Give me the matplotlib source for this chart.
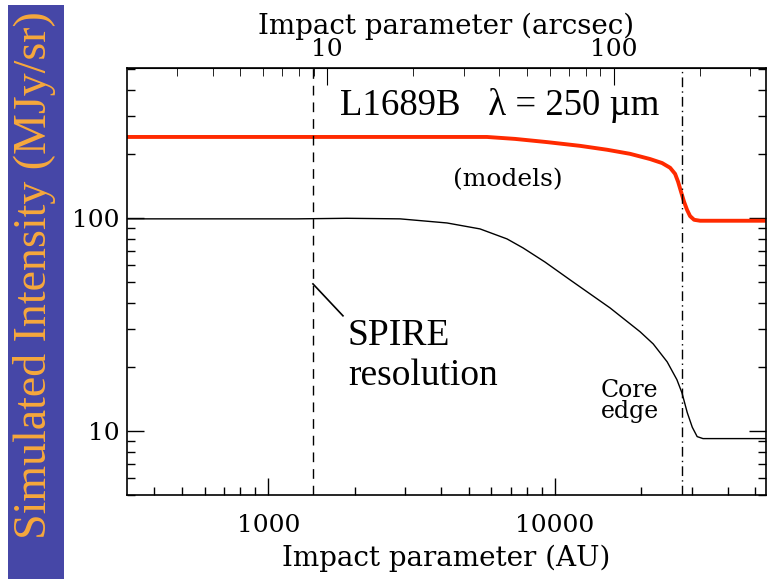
import numpy as np
import matplotlib
matplotlib.use('Agg')
import matplotlib.pyplot as plt
from matplotlib.patches import Rectangle
from matplotlib.ticker import FixedLocator, NullFormatter

# impact parameter (AU) and simulated intensity (MJy/sr)
red_au = [321, 5790, 7255, 9380, 12230, 15190, 18260, 21450, 23620, 25190,
          26220, 26850, 27510, 28180, 28870, 29570, 30540, 32050, 54400]
red_int = [240, 240, 235, 227, 218, 209, 200, 189, 181, 172,
           161, 148, 132.5, 119, 109, 102, 98, 97, 97]

black_au = [321, 1259, 1880, 2880, 4200, 5475, 6800, 7735, 9220, 11280,
            15550, 19800, 22000, 24600, 26600, 27700, 28900, 30100, 31300,
            32800, 54400]
black_int = [99, 99, 99.6, 99, 94.7, 88.8, 79.7, 72.3, 62.1, 51.2, 37.8,
             29.2, 25.6, 21.1, 17.4, 15.1, 12.2, 10.4, 9.4, 9.2, 9.2]

spire_au = 1435       # SPIRE resolution
edge_au = 27700       # core edge
au_per_arcsec = 160.0

idl_font = 'DejaVu Serif'
tnr = 'Liberation Serif'

fig = plt.figure(figsize=(7.67, 5.79), dpi=100)
fig.patches.append(Rectangle((8 / 767, 0), 56 / 767, 1 - 5 / 579,
                             transform=fig.transFigure, facecolor='#4647a7',
                             edgecolor='none', zorder=0))
fig.text(35 / 767, 0.525, 'Simulated Intensity (MJy/sr)', rotation=90,
         ha='center', va='center', color='#f7a83c', fontsize=33, family=tnr)

ax = fig.add_axes([0.1652, 0.1451, 0.8335, 0.7375])
ax.set_xscale('log')
ax.set_yscale('log')
ax.set_xlim(321, 54400)
ax.set_ylim(5.0, 506)

ax.plot(black_au, black_int, color='black', lw=1.0)
ax.plot(red_au, red_int, color='#ff2a00', lw=2.8)
ax.axvline(spire_au, color='black', lw=1.0, ls=(0, (7, 5)))
ax.axvline(edge_au, color='black', lw=1.0, ls=(0, (7, 3, 1, 3)))

ax.tick_params(which='both', direction='in', top=False, right=True,
               labelsize=18)
ax.tick_params(which='major', length=12, width=1)
ax.tick_params(which='minor', length=6, width=1)
ax.yaxis.set_major_locator(FixedLocator([10, 100]))
ax.set_yticklabels(['10', '100'], family=idl_font)
ax.xaxis.set_major_locator(FixedLocator([1000, 10000]))
ax.set_xticklabels(['1000', '10000'], family=idl_font)
ax.yaxis.set_minor_formatter(NullFormatter())
ax.xaxis.set_minor_formatter(NullFormatter())
ax.tick_params(axis='x', pad=14)
ax.tick_params(axis='y', pad=5)
ax.set_xlabel('Impact parameter (AU)', family=idl_font, fontsize=20,
              labelpad=5)

top = ax.secondary_xaxis('top', functions=(lambda x: x / au_per_arcsec,
                                           lambda x: x * au_per_arcsec))
top.set_xscale('log')
top.xaxis.set_major_locator(FixedLocator([10, 100]))
top.set_xticklabels(['10', '100'], family=idl_font)
top.xaxis.set_minor_formatter(NullFormatter())
top.tick_params(which='both', direction='in', labelsize=18, pad=5)
top.tick_params(which='major', length=12)
top.tick_params(which='minor', length=6)
top.set_xlabel('Impact parameter (arcsec)', family=idl_font, fontsize=20,
               labelpad=3)

for s in ax.spines.values():
    s.set_linewidth(1.2)

ax.text(0.333, 0.913, 'L1689B   \u03bb = 250 \u00b5m', transform=ax.transAxes,
        family=tnr, fontsize=26.5, ha='left', va='center')
ax.text(0.596, 0.738, '(models)', transform=ax.transAxes, family=idl_font,
        fontsize=18, ha='center', va='center')
ax.text(0.346, 0.326, 'SPIRE\nresolution', transform=ax.transAxes,
        family=tnr, fontsize=27, ha='left', va='center', linespacing=1.2)
ax.plot([1432, 1822], [49, 34.7], color='black', lw=1.2)
ax.text(0.787, 0.22, 'Core\nedge', transform=ax.transAxes, family=idl_font,
        fontsize=17, ha='center', va='center', linespacing=0.9)

fig.savefig('out.png', dpi=100)
